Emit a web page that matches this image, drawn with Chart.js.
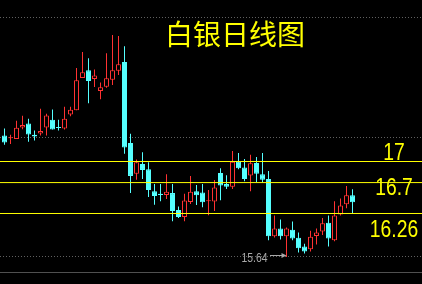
<!DOCTYPE html>
<html>
<head>
<meta charset="utf-8">
<script src="https://cdn.jsdelivr.net/npm/chart.js@4/dist/chart.umd.min.js"></script>
<style>
  html, body { margin: 0; padding: 0; background: #000; overflow: hidden; }
  canvas { display: block; }
</style>
</head>
<body>
<canvas id="c" width="422" height="284"></canvas>
<script>
// Silver daily candles, oldest first
const title = '白银日线图';
const sessions = [
   0,  1,  2,  3,  4,  5,  6,  7,  8,  9, 10, 11, 12, 13, 14, 15, 16, 17, 18, 19,
  20, 21, 22, 23, 24, 25, 26, 27, 28, 29, 30, 31, 32, 33, 34, 35, 36, 37, 38, 39,
  40, 41, 42, 43, 44, 45, 46, 47, 48, 49, 50, 51, 52, 53, 54, 55, 56, 57, 58
];
const openPrices = [
  17.37, 17.33, 17.32, 17.485, 17.54, 17.38, 17.40, 17.485, 17.595, 17.49,
  17.47, 17.67, 17.73, 18.19, 18.30, 18.175, 18.005, 18.065, 18.165, 18.29,
  18.415, 17.265, 16.825, 16.965, 16.89, 16.575, 16.54, 16.525, 16.55, 16.31,
  16.21, 16.425, 16.575, 16.56, 16.435, 16.43, 16.835, 16.68, 16.64, 16.995,
  16.915, 16.80, 16.98, 16.82, 16.75, 15.935, 16.045, 15.935, 16.03, 15.915,
  15.79, 15.75, 15.94, 16.005, 16.13, 15.88, 16.245, 16.39, 16.52
];
const highPrices = [
  17.47, 17.38, 17.58, 17.65, 17.61, 17.44, 17.75, 17.68, 17.74, 17.595,
  17.78, 17.78, 18.33, 18.56, 18.47, 18.31, 18.125, 18.54, 18.80, 18.785,
  18.64, 17.395, 17.03, 17.13, 16.99, 16.68, 16.68, 16.82, 16.68, 16.36,
  16.54, 16.795, 16.665, 16.68, 16.595, 16.735, 16.905, 16.805, 17.15, 17.12,
  17.035, 17.095, 17.065, 17.12, 16.865, 16.23, 16.175, 16.06, 16.145, 15.99,
  15.83, 16.015, 16.045, 16.195, 16.23, 16.435, 16.475, 16.65, 16.605
];
const lowPrices = [
  17.24, 17.25, 17.32, 17.46, 17.28, 17.30, 17.37, 17.37, 17.455, 17.44,
  17.455, 17.645, 17.73, 18.19, 17.83, 18.06, 17.885, 18.05, 18.09, 18.23,
  17.11, 16.55, 16.74, 16.75, 16.495, 16.385, 16.435, 16.465, 16.15, 16.195,
  16.15, 16.395, 16.38, 16.35, 16.235, 16.295, 16.45, 16.61, 16.61, 16.89,
  16.72, 16.575, 16.705, 16.705, 15.88, 15.92, 15.89, 15.64, 15.88, 15.705,
  15.69, 15.72, 15.82, 15.955, 15.79, 15.865, 16.23, 16.335, 16.26
];
const closePrices = [
  17.27, 17.345, 17.48, 17.52, 17.385, 17.355, 17.435, 17.655, 17.455, 17.475,
  17.61, 17.735, 18.155, 18.27, 18.145, 18.225, 18.055, 18.185, 18.30, 18.385,
  17.20, 16.795, 16.99, 16.88, 16.595, 16.51, 16.525, 16.57, 16.295, 16.21,
  16.445, 16.57, 16.52, 16.42, 16.45, 16.63, 16.66, 16.64, 16.995, 16.905,
  16.75, 16.975, 16.825, 16.74, 15.935, 16.045, 15.935, 16.045, 15.905, 15.765,
  15.72, 15.93, 15.99, 16.12, 15.905, 16.23, 16.375, 16.52, 16.42
];

// Horizontal price levels and their captions
const levelValues = [17, 16.7, 16.26];
const levelLabels = ['17', '16.7', '16.26'];

// Dotted reference rows
const gridValues = [15.655, 17.345, 19.05];

// Marked low of the range
const lowLabel = '15.64';
const lowValue = 15.64;
const lowSession = 47;

const UP = '#ff3232';
const DOWN = '#55ffff';
const LEVEL = '#ffff00';

const isUp = sessions.map(i => closePrices[i] >= openPrices[i]);

const bodies = {
  type: 'bar',
  order: 1,
  grouped: false,
  data: sessions.map(i => ({ x: i, y: [openPrices[i], closePrices[i]] })),
  backgroundColor: sessions.map(i => isUp[i] ? '#000000' : DOWN),
  borderColor: sessions.map(i => isUp[i] ? UP : DOWN),
  borderWidth: 1,
  borderSkipped: false,
  barThickness: 5,
  inflateAmount: 0
};

const wicks = {
  type: 'bar',
  order: 2,
  grouped: false,
  data: sessions.map(i => ({ x: i, y: [lowPrices[i], highPrices[i]] })),
  backgroundColor: sessions.map(i => isUp[i] ? UP : DOWN),
  borderWidth: 0,
  borderSkipped: false,
  barThickness: 1,
  inflateAmount: 0
};

const X_MIN = -0.75, X_MAX = -0.75 + 422 / 6;
const PX_PER_UNIT = 70.27;

const levelLines = levelValues.map(v => ({
  type: 'line',
  order: 0,
  data: [{ x: X_MIN, y: v }, { x: X_MAX, y: v }],
  borderColor: LEVEL,
  borderWidth: 1,
  pointRadius: 0,
  fill: false
}));

// Draws text squeezed horizontally (narrow face)
function narrowText(ctx, text, x, y, squeeze) {
  ctx.save();
  ctx.translate(x, y);
  ctx.scale(squeeze, 1);
  ctx.fillText(text, 0, 0);
  ctx.restore();
}

// Title, level captions and the low-price pointer
const annotations = {
  id: 'annotations',
  afterDatasetsDraw(chart) {
    const { ctx, scales: { x, y } } = chart;
    ctx.save();
    ctx.fillStyle = LEVEL;
    ctx.textAlign = 'center';
    ctx.textBaseline = 'alphabetic';
    ctx.font = '28px "Noto Sans CJK SC"';
    ctx.fillText(title, 235, 45);

    ctx.font = '23px "Liberation Sans", Arial, sans-serif';
    const captionShift = [-2, 12, 24];
    levelValues.forEach((v, i) => {
      narrowText(ctx, levelLabels[i], 394, y.getPixelForValue(v) + captionShift[i], 0.84);
    });

    const px = x.getPixelForValue(lowSession);
    const py = Math.floor(y.getPixelForValue(lowValue) - 1.5) + 0.5;
    ctx.strokeStyle = '#a8a8a8';
    ctx.fillStyle = '#a8a8a8';
    ctx.lineWidth = 1;
    ctx.beginPath();
    ctx.moveTo(px - 16.5, py);
    ctx.lineTo(px - 4, py);
    ctx.stroke();
    ctx.beginPath();
    ctx.moveTo(px, py);
    ctx.lineTo(px - 5, py - 2.5);
    ctx.lineTo(px - 5, py + 2.5);
    ctx.closePath();
    ctx.fill();

    ctx.font = '13px "Liberation Sans", Arial, sans-serif';
    ctx.textAlign = 'right';
    narrowText(ctx, lowLabel, px - 19, py + 6, 0.8);
    ctx.restore();
  }
};

new Chart(document.getElementById('c'), {
  data: { datasets: [...levelLines, bodies, wicks] },
  options: {
    responsive: false,
    devicePixelRatio: 1,
    animation: false,
    events: [],
    layout: { padding: { left: 0, right: 0, top: 0, bottom: 12 } },
    plugins: { legend: { display: false }, tooltip: { enabled: false } },
    scales: {
      x: {
        type: 'linear',
        min: X_MIN,
        max: X_MAX,
        offset: false,
        grid: { display: false, drawTicks: false, offset: false },
        ticks: { display: false },
        border: { display: true, color: '#505050', width: 1 },
        afterFit(scale) { scale.height = 0; }
      },
      y: {
        type: 'linear',
        min: 17 - 110.5 / PX_PER_UNIT,
        max: 17 + 161.5 / PX_PER_UNIT,
        afterBuildTicks(scale) {
          scale.ticks = gridValues.map(v => ({ value: v }));
        },
        grid: { color: '#606060', lineWidth: 1, drawTicks: false },
        ticks: { display: false, padding: 0 },
        border: { display: false, dash: [1, 2] },
        afterFit(scale) { scale.width = 0; }
      }
    }
  },
  plugins: [annotations]
});
</script>
</body>
</html>
